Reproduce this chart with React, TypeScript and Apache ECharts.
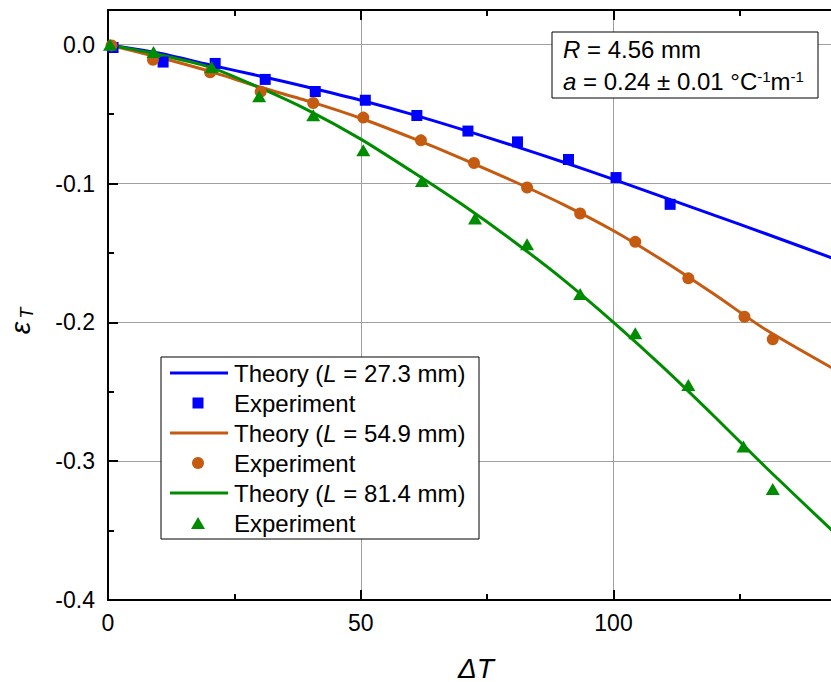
import React, { useEffect, useRef } from "react";
import * as echarts from "echarts";

const FONT = "Liberation Sans";

// Theory curves
const theoryX = [0, 10, 20, 30, 40, 50, 60, 70, 80, 90, 100, 110, 120, 130, 145];
const theory1Y = [0, -0.006, -0.0145, -0.0225, -0.031, -0.04, -0.05, -0.061, -0.0725, -0.0845, -0.097, -0.11, -0.123, -0.136, -0.156];
const theory2Y = [0, -0.009, -0.019, -0.0305, -0.041, -0.053, -0.067, -0.082, -0.098, -0.115, -0.134, -0.156, -0.18, -0.205, -0.2365];
const theory3Y = [0, -0.007, -0.016, -0.031, -0.048, -0.068, -0.091, -0.115, -0.141, -0.169, -0.2, -0.233, -0.268, -0.304, -0.356];

// Experiments
const exp1X = [1, 10.9, 21.2, 31.1, 41.0, 50.9, 61.1, 71.2, 81.0, 91.1, 100.5, 111.2];
const exp1Y = [-0.002, -0.0125, -0.0135, -0.025, -0.0337, -0.04, -0.051, -0.0622, -0.07, -0.0827, -0.0957, -0.115];
const exp2X = [0.7, 8.9, 20.2, 30.2, 40.6, 50.5, 61.9, 72.4, 82.9, 93.4, 104.3, 114.8, 125.9, 131.5];
const exp2Y = [-0.0005, -0.0108, -0.0199, -0.0338, -0.042, -0.0525, -0.0689, -0.0852, -0.1029, -0.1216, -0.142, -0.1683, -0.196, -0.2122];
const exp3X = [0.4, 9.0, 20.5, 29.9, 40.6, 50.5, 62.1, 72.6, 82.9, 93.4, 104.3, 114.8, 125.7, 131.5];
const exp3Y = [0.0, -0.0053, -0.0161, -0.0372, -0.0509, -0.0761, -0.0981, -0.1252, -0.1437, -0.1796, -0.2079, -0.2451, -0.2895, -0.32];

const xMajor = [0, 50, 100];
const xMinor = [25, 75, 125];
const yMajor = [-0.4, -0.3, -0.2, -0.1, 0];
const yMinor = [-0.35, -0.25, -0.15, -0.05];

const lengthsL = ["27.3", "54.9", "81.4"];
const COLORS = ["#0000ff", "#c55a11", "#008c00"];

const pairs = (xs: number[], ys: number[]) => xs.map((x, i) => [x, ys[i]]);

export default function App() {
  const ref = useRef<HTMLDivElement>(null);
  useEffect(() => {
    if (!ref.current) return;
    const chart = echarts.init(ref.current, null, { renderer: "svg" });
    const axisBlack = { color: "#000", width: 2 };
    const gridBox = { left: 108, top: 10, right: -10, bottom: 82, outerBoundsMode: "none", containLabel: false };

    const xMain = (pos: string, labels: boolean) => ({
      gridIndex: 0,
      type: "value",
      position: pos,
      min: 0,
      max: 145,
      interval: 50,
      axisLine: { show: true, onZero: false, lineStyle: axisBlack },
      axisTick: { show: true, inside: true, length: 10, lineStyle: axisBlack, customValues: xMajor },
      axisLabel: labels
        ? {
            show: true,
            customValues: xMajor,
            color: "#000",
            fontSize: 23,
            fontFamily: FONT,
            margin: 11,
            formatter: (v: number) => (Math.abs(v % 50) < 1e-9 ? String(v) : ""),
          }
        : { show: false },
      splitLine: { show: labels, lineStyle: { color: "#a0a0a0", width: 1 } },
    });
    const xMin = (pos: string) => ({
      gridIndex: 1,
      type: "value",
      position: pos,
      min: 0,
      max: 145,
      axisLine: { show: false, onZero: false },
      axisTick: { show: true, inside: true, length: 6, lineStyle: axisBlack, customValues: xMinor },
      axisLabel: { show: false },
      splitLine: { show: false },
    });
    const yMain = (pos: string, labels: boolean) => ({
      gridIndex: 0,
      type: "value",
      position: pos,
      min: -0.4,
      max: 0.025,
      interval: 0.1,
      axisLine: { show: true, onZero: false, lineStyle: axisBlack },
      axisTick: { show: true, inside: true, length: 10, lineStyle: axisBlack, customValues: yMajor },
      axisLabel: labels
        ? {
            show: true,
            customValues: yMajor,
            color: "#000",
            fontSize: 23,
            fontFamily: FONT,
            margin: 13,
            formatter: (v: number) => {
              const r = Math.round(v * 10) / 10;
              return Math.abs(r - v) < 1e-6 ? r.toFixed(1) : "";
            },
          }
        : { show: false },
      splitLine: { show: labels, lineStyle: { color: "#a0a0a0", width: 1 } },
    });
    const yMin = (pos: string) => ({
      gridIndex: 1,
      type: "value",
      position: pos,
      min: -0.4,
      max: 0.025,
      axisLine: { show: false, onZero: false },
      axisTick: { show: true, inside: true, length: 6, lineStyle: axisBlack, customValues: yMinor },
      axisLabel: { show: false },
      splitLine: { show: false },
    });

    const theory = (ys: number[], c: string) => ({
      type: "line",
      xAxisIndex: 0,
      yAxisIndex: 0,
      data: pairs(theoryX, ys),
      showSymbol: false,
      symbol: "none",
      smooth: 0.25,
      lineStyle: { color: c, width: 3 },
      itemStyle: { color: c },
      z: 3,
    });
    const exp = (xs: number[], ys: number[], c: string, symbol: string, size: any) => ({
      type: "scatter",
      xAxisIndex: 0,
      yAxisIndex: 0,
      data: pairs(xs, ys),
      symbol,
      symbolSize: size,
      itemStyle: { color: c, opacity: 1 },
      z: 4,
    });

    const textBase = { fill: "#000", fontSize: 24, fontFamily: FONT, align: "left", verticalAlign: "middle", textAlign: "left", textVerticalAlign: "middle" };
    const rich = {
      n: { fontSize: 24, fontFamily: FONT },
      i: { fontSize: 24, fontFamily: FONT, fontStyle: "italic" },
      sup: { fontSize: 15, fontFamily: FONT, verticalAlign: "top" },
    };

    const legendEls: any[] = [
      { type: "rect", z: 100, shape: { x: 161, y: 357, width: 318, height: 182 }, style: { fill: "#fff", stroke: "#000", lineWidth: 1 } },
    ];
    lengthsL.forEach((L, k) => {
      const yT = 373 + k * 60;
      const yE = yT + 30;
      const c = COLORS[k];
      legendEls.push({ type: "line", z: 101, shape: { x1: 170, y1: yT, x2: 228, y2: yT }, style: { stroke: c, lineWidth: 3 } });
      legendEls.push({ type: "text", z: 101, x: 234, y: yT, style: { ...textBase, text: `{n|Theory (}{i|L}{n| = ${L} mm)}`, rich } });
      if (k === 0) legendEls.push({ type: "rect", z: 101, shape: { x: 192.5, y: yE - 5.5, width: 11, height: 11 }, style: { fill: c } });
      if (k === 1) legendEls.push({ type: "circle", z: 101, shape: { cx: 198, cy: yE, r: 6 }, style: { fill: c } });
      if (k === 2) legendEls.push({ type: "polygon", z: 101, shape: { points: [[191, yE + 6], [205, yE + 6], [198, yE - 6]] }, style: { fill: c } });
      legendEls.push({ type: "text", z: 101, x: 234, y: yE, style: { ...textBase, text: "Experiment" } });
    });

    const annotEls: any[] = [
      { type: "rect", z: 100, shape: { x: 552, y: 32, width: 266, height: 66 }, style: { fill: "#fff", stroke: "#000", lineWidth: 1 } },
      { type: "text", z: 101, x: 563, y: 49, style: { ...textBase, text: "{i|R}{n| = 4.56 mm}", rich } },
      { type: "text", z: 101, x: 563, y: 81, style: { ...textBase, text: "{i|a}{n| = 0.24 ± 0.01 °C}{sup|-1}{n|m}{sup|-1}", rich } },
    ];

    const titleEls: any[] = [
      {
        type: "text",
        z: 101,
        x: 476,
        y: 668,
        style: { fill: "#000", text: "ΔT", fontSize: 28, fontStyle: "italic", fontFamily: FONT, align: "center", verticalAlign: "middle", textAlign: "center", textVerticalAlign: "middle" },
      },
      {
        type: "group",
        x: 20,
        y: 322,
        rotation: Math.PI / 2,
        children: [
          { type: "text", z: 101, x: -6, y: 0, style: { fill: "#000", text: "ε", fontSize: 28, fontStyle: "italic", fontFamily: FONT, align: "center", verticalAlign: "middle", textAlign: "center", textVerticalAlign: "middle" } },
          { type: "text", z: 101, x: 9, y: 7, style: { fill: "#000", text: "T", fontSize: 18, fontStyle: "italic", fontFamily: FONT, align: "center", verticalAlign: "middle", textAlign: "center", textVerticalAlign: "middle" } },
        ],
      },
    ];

    chart.setOption({
      animation: false,
      backgroundColor: "#fff",
      grid: [gridBox, gridBox],
      xAxis: [xMain("bottom", true), xMain("top", false), xMin("bottom"), xMin("top")],
      yAxis: [yMain("left", true), yMain("right", false), yMin("left"), yMin("right")],
      series: [
        theory(theory1Y, COLORS[0]),
        exp(exp1X, exp1Y, COLORS[0], "rect", 11),
        theory(theory2Y, COLORS[1]),
        exp(exp2X, exp2Y, COLORS[1], "circle", 12),
        theory(theory3Y, COLORS[2]),
        exp(exp3X, exp3Y, COLORS[2], "triangle", [14, 12]),
      ],
      graphic: [...legendEls, ...annotEls, ...titleEls],
    });
    return () => chart.dispose();
  }, []);
  return <div ref={ref} style={{ position: "absolute", left: 0, top: 0, width: 831, height: 682 }} />;
}
